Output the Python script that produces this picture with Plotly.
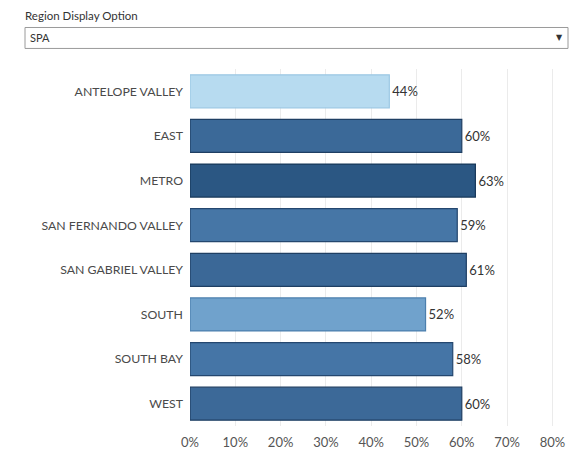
import plotly.graph_objects as go

regions = ["ANTELOPE VALLEY", "EAST", "METRO", "SAN FERNANDO VALLEY",
           "SAN GABRIEL VALLEY", "SOUTH", "SOUTH BAY", "WEST"]
values = [0.44, 0.60, 0.63, 0.59, 0.61, 0.52, 0.58, 0.60]
tick_vals = [0, 0.1, 0.2, 0.3, 0.4, 0.5, 0.6, 0.7, 0.8, 0.9]
tick_text = ["0%", "10%", "20%", "30%", "40%", "50%", "60%", "70%", "80%", "90%"]

fill_colors = ["#b7dbf0", "#3b6998", "#2b5783", "#4676a6", "#3b6897",
               "#70a2cc", "#4575a6", "#3c6998"]
line_colors = ["#9cc8e4", "#1f3f63", "#17385a", "#24476f", "#1f3f63",
               "#4b7fad", "#24476f", "#1f3f63"]

font_family = "Lato, Roboto, sans-serif"

# page body has an 8px margin; screen px = figure px + 8
OFF = 8
W, H = 585 - OFF, 454 - OFF
ML, MR, MT, MB = 190 - OFF, 0, 68.6 - OFF, 454 - 426.4
PW, PH = W - ML - MR, H - MT - MB


def px_x(px):
    return (px - OFF - ML) / PW


def px_y(py):
    return (H - MB - (py - OFF)) / PH


fig = go.Figure(go.Bar(
    y=regions,
    x=values,
    orientation="h",
    marker=dict(color=fill_colors, line=dict(color=line_colors, width=1.2)),
    text=[f"{round(v*100)}%" for v in values],
    textposition="outside",
    cliponaxis=False,
    textfont=dict(size=13, color="#333333", family=font_family),
    hoverinfo="skip",
))

fig.update_layout(
    width=W, height=H,
    margin=dict(l=ML, r=MR, t=MT, b=MB, autoexpand=False),
    paper_bgcolor="white", plot_bgcolor="white",
    bargap=0.26,
    showlegend=False,
    font=dict(family=font_family, color="#444444", size=13),
    xaxis=dict(range=[0, 0.872], tickvals=tick_vals, ticktext=tick_text,
               showgrid=True, gridcolor="#ebebeb", gridwidth=1,
               zeroline=False, showline=False, ticks="", automargin=False,
               ticklabelstandoff=7,
               tickfont=dict(size=13, color="#555555", family=font_family),
               fixedrange=True),
    yaxis=dict(categoryorder="array", categoryarray=regions[::-1],
               showgrid=False, zeroline=False, showline=False, ticks="",
               automargin=False, ticklabelstandoff=6,
               tickfont=dict(size=12.3, color="#4a4a4a", family=font_family),
               fixedrange=True),
    shapes=[dict(type="rect", xref="paper", yref="paper",
                 x0=px_x(25), x1=px_x(568), y0=px_y(48), y1=px_y(27),
                 line=dict(color="#9a9a9a", width=1), fillcolor="white")],
    annotations=[
        dict(text="Region Display Option", xref="paper", yref="paper",
             x=px_x(23), y=px_y(15), xanchor="left", yanchor="middle",
             showarrow=False, font=dict(size=11.5, color="#333333", family=font_family)),
        dict(text="SPA", xref="paper", yref="paper",
             x=px_x(28), y=px_y(37.5), xanchor="left", yanchor="middle",
             showarrow=False, font=dict(size=11, color="#333333", family=font_family)),
        dict(text="▼", xref="paper", yref="paper",
             x=px_x(559), y=px_y(37.5), xanchor="center", yanchor="middle",
             showarrow=False, font=dict(size=8, color="#333333", family="DejaVu Sans")),
    ],
)

fig.write_html("out.html")
